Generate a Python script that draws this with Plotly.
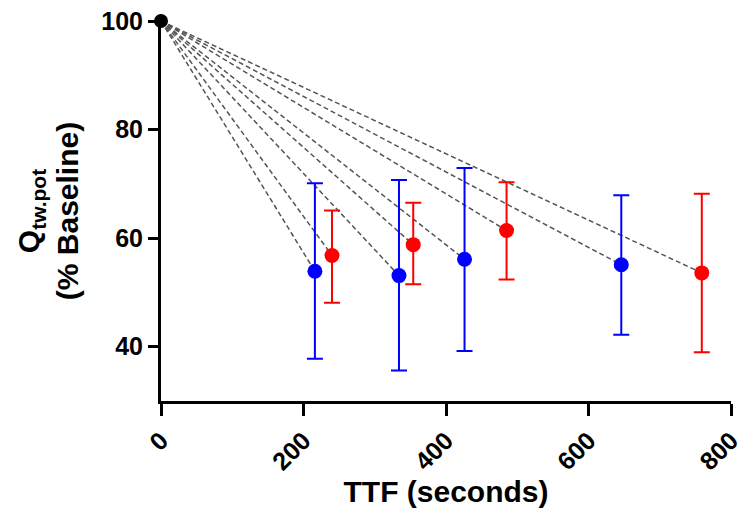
import plotly.graph_objects as go

# Baseline point
base_t = 0
base_v = 100

# Blue series (TTF seconds, % baseline, error bar upper/lower ends)
blue_t = [216, 334, 426, 646]
blue_v = [53.9, 53.1, 56.1, 55.1]
blue_hi = [70.1, 70.7, 72.9, 67.9]
blue_lo = [37.8, 35.6, 39.2, 42.2]

# Red series
red_t = [240, 354, 485, 759]
red_v = [56.8, 58.8, 61.4, 53.6]
red_hi = [65.1, 66.5, 70.3, 68.2]
red_lo = [48.1, 51.5, 52.4, 39.0]

x_ticks = [0, 200, 400, 600, 800]
y_ticks = [40, 60, 80, 100]

FONT = "Liberation Sans, Arial, sans-serif"

fig = go.Figure()

# dashed connector lines from baseline to each point
all_t = blue_t + red_t
all_v = blue_v + red_v
for t, v in zip(all_t, all_v):
    fig.add_trace(go.Scatter(
        x=[base_t, t], y=[base_v, v], mode="lines",
        line=dict(color="#555555", width=1.5, dash="5px,3px"),
        hoverinfo="skip", showlegend=False, cliponaxis=False))

def add_series(t, v, hi, lo, color):
    fig.add_trace(go.Scatter(
        x=t, y=v, mode="markers",
        marker=dict(color=color, size=15, line=dict(width=0)),
        error_y=dict(type="data", symmetric=False,
                     array=[h - m for h, m in zip(hi, v)],
                     arrayminus=[m - l for l, m in zip(lo, v)],
                     color=color, thickness=2, width=8),
        showlegend=False, cliponaxis=False))

add_series(blue_t, blue_v, blue_hi, blue_lo, "#0000FF")
add_series(red_t, red_v, red_hi, red_lo, "#FF0000")

fig.add_trace(go.Scatter(
    x=[base_t], y=[base_v], mode="markers",
    marker=dict(color="black", size=14),
    showlegend=False, cliponaxis=False))

fig.update_layout(
    width=751, height=523,
    margin=dict(l=161, r=20, t=21, b=122, pad=0),
    plot_bgcolor="white", paper_bgcolor="white",
    font=dict(family=FONT, color="black"),
    xaxis=dict(
        range=[0, 800], tickvals=x_ticks, ticktext=[str(v) for v in x_ticks],
        tickangle=-45, showline=True, linecolor="black", linewidth=3,
        ticks="outside", ticklen=12, tickwidth=3, tickcolor="black",
        showgrid=False, zeroline=False, automargin=False,
        tickfont=dict(size=25, family=FONT, weight="bold"),
        title=dict(text="TTF (seconds)", font=dict(size=30, family=FONT, weight="bold"), standoff=6),
    ),
    yaxis=dict(
        range=[30, 100], tickvals=y_ticks, ticktext=[str(v) for v in y_ticks],
        showline=True, linecolor="black", linewidth=3,
        ticks="outside", ticklen=10, tickwidth=3, tickcolor="black",
        showgrid=False, zeroline=False, automargin=False,
        tickfont=dict(size=25, family=FONT, weight="bold"),
        title=dict(text="Q<sub>tw.pot</sub><br>(% Baseline)",
                   font=dict(size=30, family=FONT, weight="bold"), standoff=14),
    ),
)

fig.write_html("out.html")
